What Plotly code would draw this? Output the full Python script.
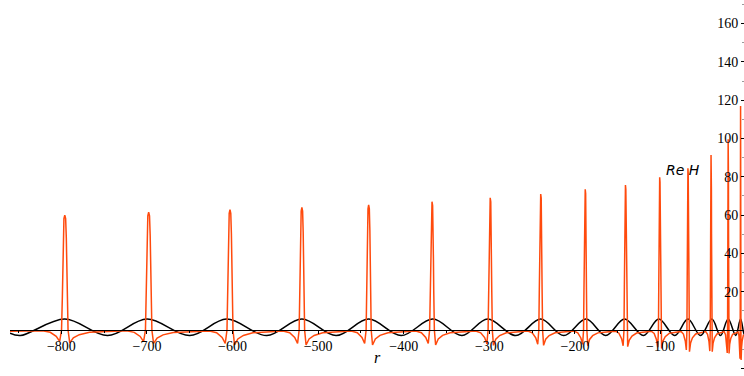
import plotly.graph_objects as go

# Orange curve (Re H): one narrow spike per resonance, with negative side lobes
spike_r = [-796, -698, -603, -519, -441, -367, -299, -240, -188, -141, -101, -68, -41, -21, -6.5]
spike_peak = [60.0, 61.5, 62.8, 64.0, 65.3, 67.0, 69.0, 71.0, 73.5, 75.7, 79.7, 84.4, 91.4, 99.6, 116.9]
dip_left = [-5.9, -6.1, -7.0, -7.0, -7.0, -7.0, -7.2, -7.4, -7.5, -8.2, -9.0, -10.4, -11.0, -12.0, -15.0]
dip_right = [-6.7, -7.0, -7.8, -7.8, -7.8, -7.8, -8.0, -8.0, -8.2, -8.7, -9.6, -11.3, -11.3, -12.2, -15.6]
spike_scale = [1.0, 0.99, 0.92, 0.84, 0.78, 0.73, 0.65, 0.58, 0.51, 0.45, 0.38, 0.31, 0.24, 0.18, 0.11]
orange_start = (-860, -0.6)
orange_end = (0, -3.0)

# Black reference oscillation: alternating maxima / minima
black_r = [-860, -848, -796, -746, -700, -650, -607, -560, -519, -479, -441, -403,
           -366, -332, -302, -269, -240, -213, -187, -164, -142, -120, -102, -83.4,
           -68, -53.3, -40, -30, -21, -12.2, -6.5, -2.2, 0]
black_v = [-1.6, -2.9, 5.7, -2.9, 5.7, -2.9, 5.7, -2.9, 5.7, -2.9, 5.7, -2.9,
           5.7, -2.9, 5.7, -2.9, 5.7, -2.9, 5.7, -2.9, 5.7, -2.9, 5.7, -2.9,
           5.7, -2.9, 5.7, -2.9, 5.7, -2.8, 5.7, -2.4, 1.0]

x_tickvals = [-800, -700, -600, -500, -400, -300, -200, -100]
y_tickvals = [-20, 20, 40, 60, 80, 100, 120, 140, 160]

X_RANGE = [-860, -2.5]
Y_RANGE = [-24.0, 172.3]

# Spike profile: offsets along r (in units of the local spike scale)
# and the kind of value taken at each offset.
profile = [
    (-26, "dl", 0.07), (-17, "dl", 0.2), (-10, "dl", 0.55), (-6.0, "dl", 1.0),
    (-3.8, "h", 0.0), (-2.8, "h", 0.3), (-2.3, "h", 0.55), (-1.8, "h", 0.8),
    (-1.0, "h", 0.97), (0.0, "h", 1.0),
    (1.0, "h", 0.97), (1.8, "h", 0.8), (2.3, "h", 0.55), (2.8, "h", 0.3),
    (3.8, "h", 0.0), (5.8, "dr", 1.0),
    (10, "dr", 0.6), (17, "dr", 0.36), (29, "dr", 0.18),
]

orange_x = [orange_start[0]]
orange_y = [orange_start[1]]
for c, h, dl, dr, s in zip(spike_r, spike_peak, dip_left, dip_right, spike_scale):
    ref = {"h": h, "dl": dl, "dr": dr}
    for off, kind, frac in profile:
        orange_x.append(c + off * s)
        orange_y.append(ref[kind] * frac)
orange_x.append(orange_end[0])
orange_y.append(orange_end[1])

fig = go.Figure()
fig.add_trace(go.Scatter(
    x=black_r, y=black_v, mode="lines",
    line=dict(color="black", width=1.5, shape="spline", smoothing=1.0),
    showlegend=False, hoverinfo="skip",
))
fig.add_trace(go.Scatter(
    x=orange_x, y=orange_y, mode="lines",
    line=dict(color="#ff4a0d", width=1.5),
    showlegend=False, hoverinfo="skip",
))

tick_font = dict(family="Liberation Serif", size=14, color="black")
x_pos = -Y_RANGE[0] / (Y_RANGE[1] - Y_RANGE[0])

fig.update_layout(
    width=744, height=376,
    margin=dict(l=0, r=0, t=0, b=0),
    paper_bgcolor="white", plot_bgcolor="white",
    showlegend=False,
    xaxis=dict(
        domain=[10 / 744, 1], range=X_RANGE,
        anchor="free", position=x_pos,
        showline=True, linecolor="black", linewidth=1,
        showgrid=False, zeroline=False,
        tickmode="array", tickvals=x_tickvals,
        ticks="outside", ticklen=3, tickcolor="black", tickwidth=1,
        minor=dict(tickmode="linear", tick0=50, dtick=100, ticks="outside",
                   ticklen=2, tickcolor="black", showgrid=False),
        tickfont=tick_font,
    ),
    yaxis=dict(
        range=Y_RANGE,
        anchor="free", position=1.0, side="left",
        showline=False, showgrid=False, zeroline=False,
        tickmode="array", tickvals=y_tickvals,
        ticks="outside", ticklen=3, tickcolor="black", tickwidth=1,
        minor=dict(tickmode="linear", tick0=10, dtick=20, ticks="outside",
                   ticklen=2, tickcolor="#999999", showgrid=False),
        tickfont=tick_font,
    ),
    annotations=[
        dict(x=-74, y=83.3, xref="x", yref="y", text="<i>Re H</i>",
             showarrow=False, font=dict(family="DejaVu Sans", size=14, color="black")),
        dict(x=-431, y=-14.6, xref="x", yref="y", text="<i>r</i>",
             showarrow=False, font=dict(family="Liberation Serif", size=16, color="black")),
        dict(x=0, y=0, xref="x", yref="y", text="0", xanchor="right",
             xshift=-4, yshift=-11, showarrow=False, font=tick_font),
    ],
)

fig.write_html("out.html")
